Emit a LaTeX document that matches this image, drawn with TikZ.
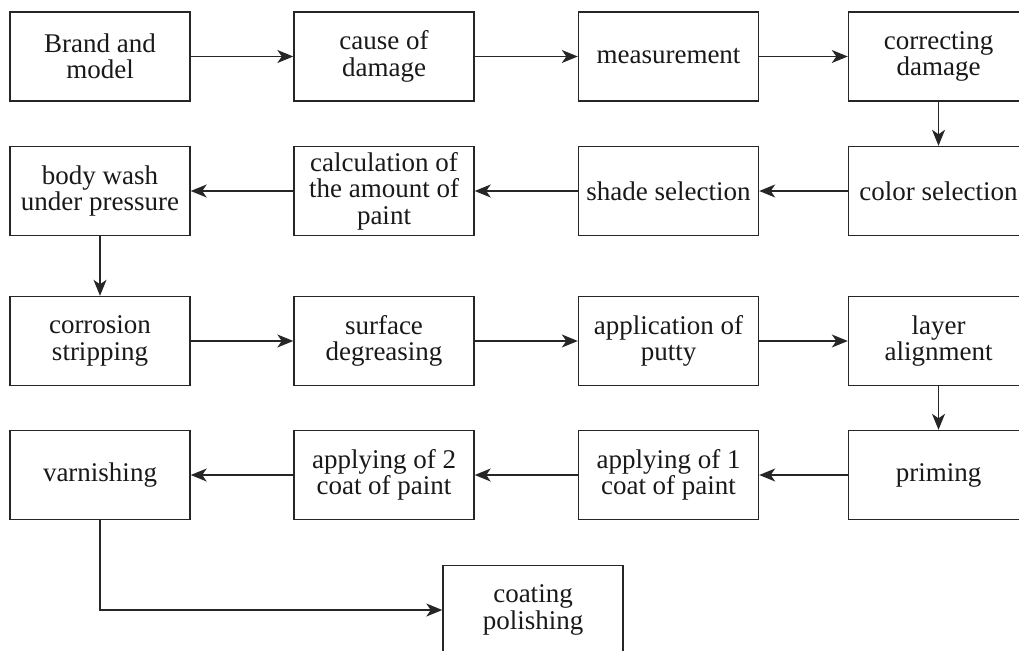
\documentclass[tikz,border=0pt]{standalone}
\usepackage{fontspec}
\setmainfont{Liberation Serif}
\usetikzlibrary{arrows.meta}
\begin{document}
\begin{tikzpicture}[x=1pt,y=-1pt,
  box/.style={draw=black!85, line width=1.4pt, fill=white, minimum width=180pt, minimum height=89pt,
    inner sep=0pt, align=center, font=\fontsize{27}{26.5}\selectfont, text=black!90},
  flow/.style={draw=black!85, line width=1.4pt, -{Stealth[length=16pt,width=13pt,inset=4.5pt]}}]
\useasboundingbox (0,0) rectangle (1019,650);
% row 1
\node[box] (brand)   at (100,56.5)   {Brand and\\model};
\node[box] (cause)   at (384,56.5)   {cause of\\damage};
\node[box] (meas)    at (668.5,56.5) {measurement};
\node[box] (corr)    at (938.5,56.5) {correcting\\damage};
% row 2
\node[box] (color)   at (938.5,191)  {color selection};
\node[box] (shade)   at (668.5,191)  {shade selection};
\node[box] (calc)    at (384,191)    {calculation of\\the amount of\\paint};
\node[box] (wash)    at (100,191)    {body wash\\under pressure};
% row 3
\node[box] (strip)   at (100,341)    {corrosion\\stripping};
\node[box] (degr)    at (384,341)    {surface\\degreasing};
\node[box] (putty)   at (668.5,341)  {application of\\putty};
\node[box] (layer)   at (938.5,341)  {layer\\alignment};
% row 4
\node[box] (prime)   at (938.5,475)  {priming};
\node[box] (coat1)   at (668.5,475)  {applying of 1\\coat of paint};
\node[box] (coat2)   at (384,475)    {applying of 2\\coat of paint};
\node[box] (varn)    at (100,475)    {varnishing};
% row 5
\node[box] (polish)  at (533,610)    {coating\\polishing};
% connectors
\draw[flow] (brand) -- (cause);
\draw[flow] (cause) -- (meas);
\draw[flow] (meas) -- (corr);
\draw[flow] (corr) -- (color);
\draw[flow] (color) -- (shade);
\draw[flow] (shade) -- (calc);
\draw[flow] (calc) -- (wash);
\draw[flow] (wash) -- (strip);
\draw[flow] (strip) -- (degr);
\draw[flow] (degr) -- (putty);
\draw[flow] (putty) -- (layer);
\draw[flow] (layer) -- (prime);
\draw[flow] (prime) -- (coat1);
\draw[flow] (coat1) -- (coat2);
\draw[flow] (coat2) -- (varn);
\draw[flow] (varn.south) |- (polish.west);
\end{tikzpicture}
\end{document}
